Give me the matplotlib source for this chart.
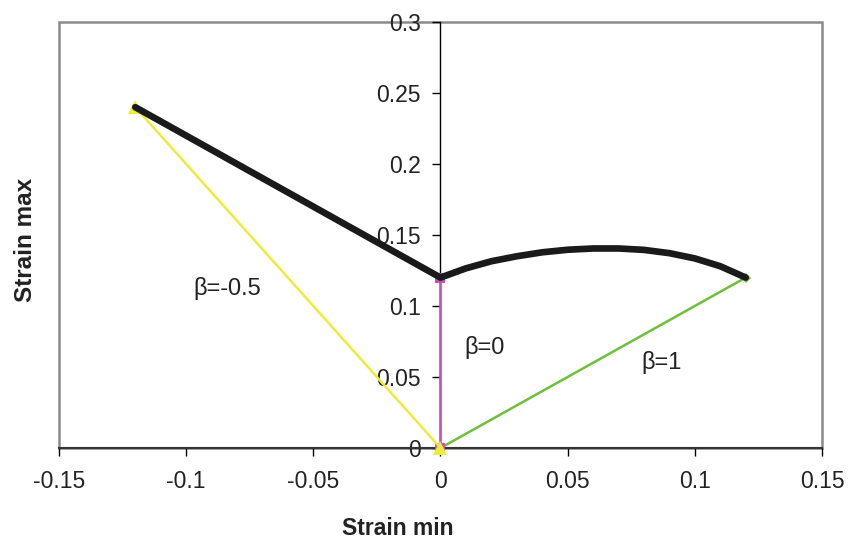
import matplotlib
matplotlib.use("Agg")
import matplotlib.pyplot as plt
from matplotlib.patches import Rectangle

plt.rcParams['font.family'] = ['Liberation Sans', 'DejaVu Sans']

# Limit curve (strain min, strain max)
limit_x = [-0.12, 0.0, 0.01, 0.02, 0.03, 0.04, 0.05, 0.06, 0.07, 0.08, 0.09, 0.10, 0.11, 0.12]
limit_y = [0.24, 0.12, 0.1265, 0.1315, 0.1350, 0.1378, 0.1396, 0.1405, 0.1405, 0.1395, 0.1372, 0.1335, 0.1280, 0.1200]

# Strain paths
path_neg_x = [-0.12, 0.0]
path_neg_y = [0.24, 0.0]
path_zero_x = [0.0, 0.0]
path_zero_y = [0.0, 0.12]
path_one_x = [0.0, 0.12]
path_one_y = [0.0, 0.12]

path_labels = ["β=-0.5", "β=0", "β=1"]
label_pos = [(-0.084, 0.112), (0.0175, 0.071), (0.087, 0.060)]

x_ticks = [-0.15, -0.1, -0.05, 0, 0.05, 0.1, 0.15]
x_tick_labels = ["-0.15", "-0.1", "-0.05", "0", "0.05", "0.1", "0.15"]
y_ticks = [0, 0.05, 0.1, 0.15, 0.2, 0.25, 0.3]
y_tick_labels = ["0", "0.05", "0.1", "0.15", "0.2", "0.25", "0.3"]

fig = plt.figure(figsize=(8.52, 5.43), dpi=100)
ax = fig.add_axes([0.0692, 0.175, 0.8956, 0.7845])

ax.plot(path_one_x, path_one_y, color="#6fbf3a", lw=1.8, marker="D", ms=5,
        markeredgewidth=0, clip_on=False, zorder=3)
ax.plot(path_zero_x, path_zero_y, color="#c84fc0", lw=1.8, marker="s", ms=7,
        markeredgewidth=0, clip_on=False, zorder=4)
ax.plot(path_neg_x, path_neg_y, color="#ecec3c", lw=1.8, marker="^", ms=10,
        markeredgewidth=0, clip_on=False, zorder=5)
ax.plot(limit_x, limit_y, color="#1a1a1a", lw=4.8, solid_capstyle="round",
        solid_joinstyle="round", clip_on=False, zorder=6)

for txt, (tx, ty) in zip(path_labels, label_pos):
    ax.text(tx, ty, txt, fontsize=17, ha="center", va="center", color="#222222")

ax.set_xlim(-0.15, 0.15)
ax.set_ylim(0, 0.3)

# Gray outer frame, black axes through the origin
for side in ("top", "right"):
    ax.spines[side].set_visible(False)
ax.spines["left"].set_position(("data", 0))
ax.spines["left"].set_color("black")
ax.spines["left"].set_linewidth(1.0)
ax.spines["bottom"].set_color("#333333")
ax.spines["bottom"].set_linewidth(1.5)
ax.add_patch(Rectangle((0, 0), 1, 1, transform=ax.transAxes, fill=False,
                       edgecolor="#8a8a8a", lw=1.8, zorder=0, clip_on=False))

ax.set_xticks(x_ticks)
ax.set_xticklabels(x_tick_labels)
ax.set_yticks(y_ticks)
ax.set_yticklabels(y_tick_labels)
ax.tick_params(axis="both", direction="out", length=6, width=1.0,
               labelsize=16.5, colors="black", labelcolor="#222222")
ax.tick_params(axis="x", pad=10)
ax.tick_params(axis="y", pad=8)

ax.set_xlabel("Strain min", fontsize=16.5, fontweight="bold", color="#222222")
ax.xaxis.set_label_coords(0.444, -0.163, transform=ax.transAxes)
ax.set_ylabel("Strain max", fontsize=17.5, fontweight="bold", color="#222222")
ax.yaxis.set_label_coords(-0.029, 0.488, transform=ax.transAxes)

fig.savefig("out.png", dpi=100)
